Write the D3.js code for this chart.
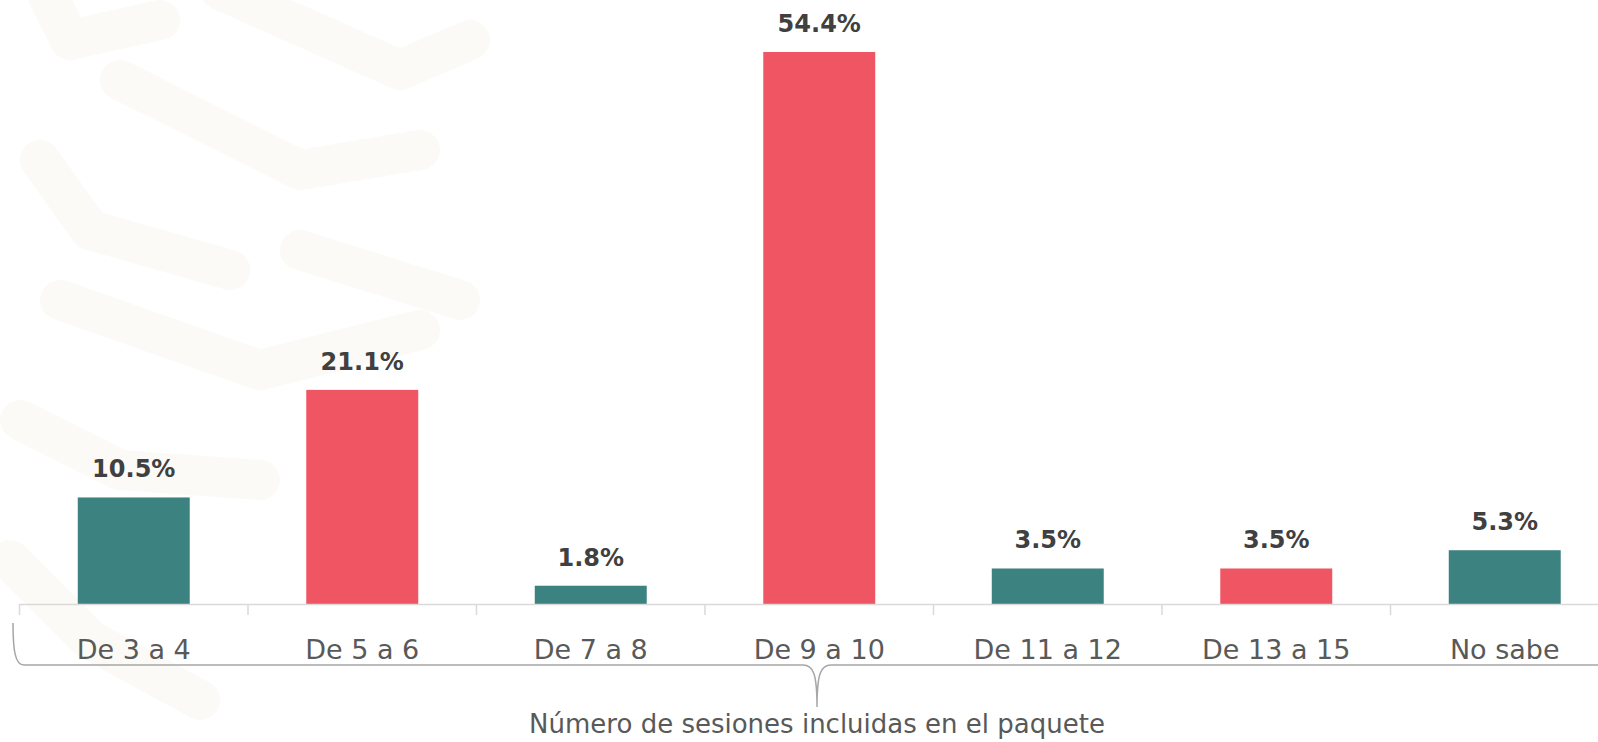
<!DOCTYPE html>
<html>
<head>
<meta charset="utf-8">
<script src="https://cdn.jsdelivr.net/npm/d3@7"></script>
<style>
  body { margin: 0; background: #ffffff; overflow: hidden; }
  text { font-family: "DejaVu Sans", "Noto Sans", sans-serif; }
</style>
</head>
<body>
<script>
var categories = ["De 3 a 4", "De 5 a 6", "De 7 a 8", "De 9 a 10", "De 11 a 12", "De 13 a 15", "No sabe"];
var values = [10.5, 21.1, 1.8, 54.4, 3.5, 3.5, 5.3];
var barColors = ["#3c8280", "#f05563", "#3c8280", "#f05563", "#3c8280", "#f05563", "#3c8280"];
var axisTitle = "Número de sesiones incluidas en el paquete";

var width = 1598;
var height = 742;
var baseY = 604;

var svg = d3.select("body").append("svg")
  .attr("width", width)
  .attr("height", height);

// very faint watermark on the left
var wm = svg.append("g")
  .attr("fill", "none")
  .attr("stroke", "#fbfaf7")
  .attr("stroke-linecap", "round")
  .attr("stroke-linejoin", "round");
var wmPaths = [
  "M40,-20 L70,40 L160,20",
  "M120,80 L300,170 L420,150",
  "M40,160 L90,230 L230,270",
  "M60,300 L260,370 L420,330",
  "M20,420 L120,470 L260,480",
  "M220,-10 L400,70 L470,40",
  "M300,250 L460,300",
  "M10,560 L90,640 L200,700"
];
wm.selectAll("path")
  .data(wmPaths)
  .enter().append("path")
  .attr("d", function (d) { return d; })
  .attr("stroke-width", 40);

var x = d3.scaleBand()
  .domain(categories)
  .range([19.5, 19.5 + 7 * 228.5])
  .paddingInner(0.51)
  .paddingOuter(0.255);

var y = d3.scaleLinear()
  .domain([0, 54.4])
  .range([baseY, 52]);

var step = x.step();
var half = step * x.paddingInner() / 2;

// bars
svg.selectAll("rect.bar")
  .data(values)
  .enter().append("rect")
  .attr("class", "bar")
  .attr("x", function (d, i) { return x(categories[i]); })
  .attr("y", function (d) { return y(d); })
  .attr("width", x.bandwidth())
  .attr("height", function (d) { return baseY - y(d); })
  .attr("fill", function (d, i) { return barColors[i]; });

// value labels
svg.selectAll("text.val")
  .data(values)
  .enter().append("text")
  .attr("class", "val")
  .attr("x", function (d, i) { return x(categories[i]) + x.bandwidth() / 2; })
  .attr("y", function (d) { return y(d) - 20; })
  .attr("text-anchor", "middle")
  .attr("font-size", "24px")
  .attr("font-weight", "bold")
  .attr("fill", "#404040")
  .text(function (d) { return d.toFixed(1) + "%"; });

// axis line
svg.append("line")
  .attr("x1", 19.5).attr("x2", width + 30)
  .attr("y1", baseY + 0.5).attr("y2", baseY + 0.5)
  .attr("stroke", "#d9d9d9")
  .attr("stroke-width", 1.5);

// ticks on category boundaries
var bounds = categories.map(function (c) { return x(c) - half; });
svg.selectAll("line.tick")
  .data(bounds)
  .enter().append("line")
  .attr("class", "tick")
  .attr("x1", function (d) { return d; })
  .attr("x2", function (d) { return d; })
  .attr("y1", baseY)
  .attr("y2", baseY + 11)
  .attr("stroke", "#d9d9d9")
  .attr("stroke-width", 1.5);

// category labels
svg.selectAll("text.cat")
  .data(categories)
  .enter().append("text")
  .attr("class", "cat")
  .attr("x", function (d) { return x(d) + x.bandwidth() / 2; })
  .attr("y", 659)
  .attr("text-anchor", "middle")
  .attr("font-size", "27px")
  .attr("fill", "#595959")
  .text(function (d) { return d; });

// brace under the categories
var mid = 817;
var by = 665;
var brace = "M13,623 C13,650 15," + by + " 24," + by +
  " L" + (mid - 14) + "," + by +
  " C" + (mid - 4) + "," + by + " " + mid + "," + (by + 8) + " " + mid + "," + (by + 42) +
  " C" + mid + "," + (by + 8) + " " + (mid + 4) + "," + by + " " + (mid + 14) + "," + by +
  " L" + (width + 30) + "," + by;
svg.append("path")
  .attr("d", brace)
  .attr("fill", "none")
  .attr("stroke", "#a6a6a6")
  .attr("stroke-width", 1.5);

// axis title
svg.append("text")
  .attr("x", mid)
  .attr("y", 733)
  .attr("text-anchor", "middle")
  .attr("font-size", "26px")
  .attr("fill", "#595959")
  .text(axisTitle);
</script>
</body>
</html>
